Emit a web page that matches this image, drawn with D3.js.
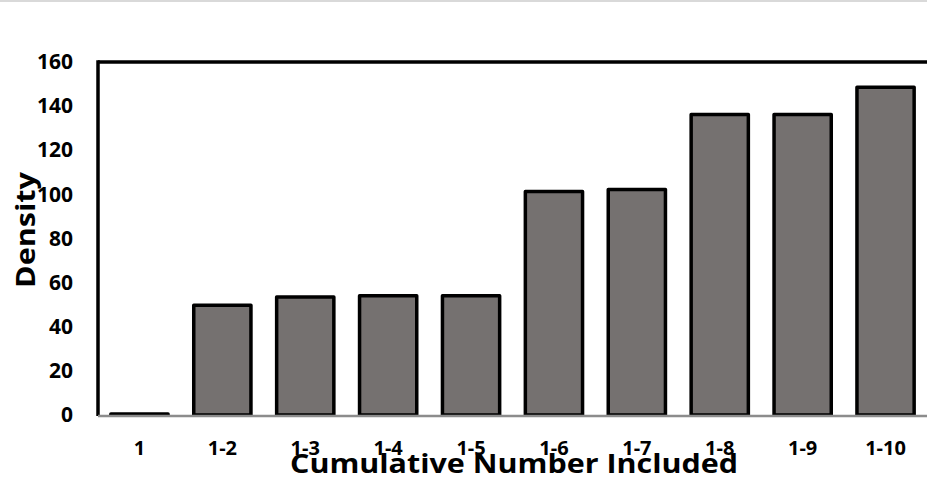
<!DOCTYPE html>
<html><head><meta charset="utf-8">
<script src="https://cdn.jsdelivr.net/npm/d3@7"></script>
<style>html,body{margin:0;padding:0;background:#fff;overflow:hidden}</style>
</head><body>
<svg id="c" width="927" height="490"></svg>
<script>
const categories = ["1","1-2","1-3","1-4","1-5","1-6","1-7","1-8","1-9","1-10"];
const densityValues = [0.4, 49.7, 53.5, 54, 54, 101.3, 102.2, 136.2, 136.2, 148.5];
const yTicks = [0,20,40,60,80,100,120,140,160];
const xTitle = "Cumulative Number Included";
const yTitle = "Density";

const svg = d3.select("#c");
const font = "'Open Sans', sans-serif";
const L = 98, R = 927, T = 62, B = 415;

svg.append("line").attr("x1",0).attr("x2",927).attr("y1",1).attr("y2",1)
  .attr("stroke","#d9d9d9").attr("stroke-width",2);

const x = d3.scaleBand().domain(categories).range([L, R]).paddingInner(0.31).paddingOuter(0.155);
const y = d3.scaleLinear().domain([0,160]).range([B, T]);

// bars
svg.append("g").selectAll("rect").data(categories).join("rect")
  .attr("x", d => x(d))
  .attr("width", x.bandwidth())
  .attr("y", (d,i) => y(densityValues[i]))
  .attr("height", (d,i) => y(0) - y(densityValues[i]))
  .attr("fill", "#757170")
  .attr("stroke", "#000").attr("stroke-width", 3.5).attr("stroke-linejoin","round");

// frame top
svg.append("line").attr("x1",L).attr("x2",R).attr("y1",T).attr("y2",T)
  .attr("stroke","#000").attr("stroke-width",3.5);

// y axis
const yAxis = d3.axisLeft(y).tickValues(yTicks).tickSize(0).tickPadding(25).tickFormat(d3.format("d"));
const yg = svg.append("g").attr("transform",`translate(${L},0)`).call(yAxis);
yg.select(".domain").attr("stroke","#000").attr("stroke-width",3.5).attr("d",`M0,${T-1.7}V${B+1}`);
yg.selectAll("text").attr("font-family",font).attr("font-weight","bold").attr("font-size","21px").attr("fill","#000");

// x axis
const xAxis = d3.axisBottom(x).tickSize(0).tickPadding(25);
const xg = svg.append("g").attr("transform",`translate(0,${B+1})`).call(xAxis);
xg.select(".domain").attr("stroke","#8c8c8c").attr("stroke-width",2.5).attr("d",`M${L},0H${R}`);
xg.selectAll("text").attr("font-family",font).attr("font-weight","bold").attr("font-size","20px").attr("fill","#000");

// titles
svg.append("text").attr("x",514).attr("y",473).attr("text-anchor","middle")
  .attr("font-family",font).attr("font-weight","bold").attr("font-size","27px").attr("fill","#000")
  .attr("textLength",448).attr("lengthAdjust","spacingAndGlyphs")
  .text(xTitle);
svg.append("text").attr("transform","translate(35,230) rotate(-90)").attr("text-anchor","middle")
  .attr("font-family",font).attr("font-weight","bold").attr("font-size","27px").attr("fill","#000")
  .attr("textLength",116).attr("lengthAdjust","spacingAndGlyphs")
  .text(yTitle);
</script>
</body></html>
